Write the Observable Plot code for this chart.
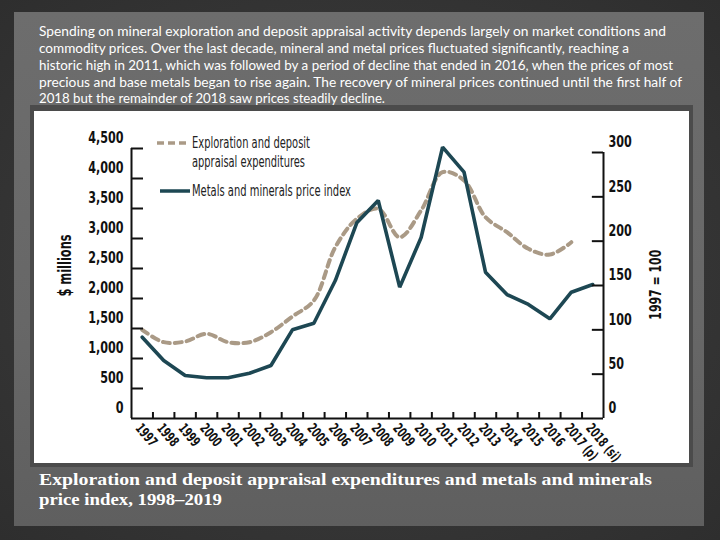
<!DOCTYPE html>
<html>
<head>
<meta charset="utf-8">
<script src="https://cdn.jsdelivr.net/npm/d3@7"></script>
<script src="https://cdn.jsdelivr.net/npm/@observablehq/plot@0.6"></script>
<style>
  html, body { margin: 0; padding: 0; }
  body { width: 720px; height: 540px; position: relative; overflow: hidden;
         background: radial-gradient(ellipse at 50% 50%, #404040 0%, #2e2e2e 100%); }
  #paper { position: absolute; left: 14px; top: 12px; width: 690px; height: 514px;
           background: linear-gradient(180deg, #6d6d6d 0%, #676767 60%, #5f5f5f 100%); }
  #frame { position: absolute; left: 30px; top: 105px; width: 663px; height: 362px; background: #4b4b4b; }
  #panel { position: absolute; left: 34px; top: 111px; width: 655px; height: 352px; background: #fff; }
  #chart { position: absolute; left: 0; top: 0; }
  #texts { position: absolute; left: 0; top: 0; }
</style>
</head>
<body>
<div id="paper"></div>
<div id="frame"></div>
<div id="panel"></div>
<div id="chart"></div>
<svg id="texts" width="720" height="540"></svg>
<script>
// ---- data ----
const years = [1997,1998,1999,2000,2001,2002,2003,2004,2005,2006,2007,2008,2009,2010,2011,2012,2013,2014,2015,2016,2017,2018];
const yearLabels = ["1997","1998","1999","2000","2001","2002","2003","2004","2005","2006","2007","2008","2009","2010","2011","2012","2013","2014","2015","2016","2017 (p)","2018 (si)"];
// Exploration and deposit appraisal expenditures, $ millions (1997–2017)
const expenditures = [1478,1272,1283,1412,1272,1272,1438,1700,1967,2855,3328,3495,3022,3467,4105,3967,3355,3105,2828,2733,2938];
// Metals and minerals price index, 1997 = 100 (1997–2018)
const priceIndex = [91.7,65.4,48.5,45.9,45.9,51.1,59.8,100,107.5,155.6,220.7,245.9,148.1,204.1,306,277.8,165,139.8,128.6,112.4,142.4,151.1];
const leftTicks = [0,500,1000,1500,2000,2500,3000,3500,4000,4500];
const rightTicks = [0,50,100,150,200,250,300];
const seriesNames = ["Exploration and deposit appraisal expenditures", "Metals and minerals price index"];

const K = 4433.3 / 300; // right-axis units mapped onto the left scale

const expData = expenditures.map((v, i) => ({year: years[i], value: v}));
const idxData = priceIndex.map((v, i) => ({year: years[i], value: v * K}));
const bounds = years.slice(0, -1).map(y => y + 0.5);

const font = '"DejaVu Sans Condensed", "DejaVu Sans", sans-serif';

const chart = Plot.plot({
  width: 720, height: 540,
  marginLeft: 131, marginRight: 117, marginTop: 148, marginBottom: 122,
  style: {background: "transparent", fontFamily: font, color: "#111"},
  x: {type: "linear", domain: [1996.5, 2018.5]},
  y: {domain: [0, 4500]},
  marks: [
    Plot.line(expData, {x: "year", y: "value", stroke: "#aa9a86", strokeWidth: 4, strokeDasharray: "7,5", curve: "catmull-rom"}),
    Plot.line(idxData, {x: "year", y: "value", stroke: "#1d4753", strokeWidth: 3.6, strokeLinejoin: "miter"}),
    Plot.ruleX([1996.5], {y1: 0, y2: 4500, stroke: "#111", strokeWidth: 2}),
    Plot.ruleX([2018.5], {y1: 0, y2: 300 * K, stroke: "#111", strokeWidth: 2}),
    Plot.ruleY([0], {x1: 1996.5, x2: 2018.5, stroke: "#111", strokeWidth: 2}),
    Plot.ruleY(leftTicks.slice(1), {y: d => d, x1: 1996.5, x2: 1996.5 + 0.56, stroke: "#111", strokeWidth: 2}),
    Plot.ruleY(rightTicks.slice(1).map(v => v * K), {y: d => d, x1: 2018.5 - 0.52, x2: 2018.5, stroke: "#111", strokeWidth: 2}),
    Plot.ruleX(bounds, {x: d => d, y1: 0, y2: 100, stroke: "#111", strokeWidth: 2}),
    Plot.axisY({ticks: leftTicks, tickSize: 0, tickPadding: 8, dy: -10, tickFormat: d3.format(","), label: null, fontSize: 15.5, fontWeight: "bold"}),
    Plot.axisY({anchor: "right", ticks: rightTicks.map(v => v * K), tickFormat: d => String(Math.round(d / K)), tickSize: 0, tickPadding: 5, dy: -10, label: null, fontSize: 15.5, fontWeight: "bold"}),
    Plot.axisX({ticks: years, tickFormat: d => yearLabels[years.indexOf(d)], tickSize: 0, tickPadding: 7, tickRotate: 50, dx: -4, label: null, fontSize: 14, fontWeight: "bold"}),
    Plot.text(["$ millions"], {x: 1996.5, y: 2550, dx: -66, rotate: -90, fontSize: 17, fontWeight: "bold", fill: "#111"}),
    Plot.text(["1997 = 100"], {x: 2018.5, y: 2230, dx: 52, rotate: -90, fontSize: 16, fontWeight: "bold", fill: "#111"})
  ]
});
document.getElementById("chart").appendChild(chart);

// imitate the condensed face of the original by narrowing the glyphs
function narrow(el, f) {
  const n = el.getComputedTextLength();
  if (n > 0) { el.setAttribute("textLength", (n * f).toFixed(1)); el.setAttribute("lengthAdjust", "spacingAndGlyphs"); }
}
chart.querySelectorAll('g[aria-label="y-axis tick label"] text').forEach(el => narrow(el, 0.8));
chart.querySelectorAll('g[aria-label="x-axis tick label"] text').forEach(el => narrow(el, 0.72));
chart.querySelectorAll('g[aria-label="text"] text').forEach(el => {
  const target = el.textContent.startsWith("$") ? 62 : 70;
  const n = el.getComputedTextLength();
  narrow(el, target / n);
});

// ---- legend and page texts ----
const svg = d3.select("#texts");
function fitted(g, x, y, t, w) {
  return g.append("text").attr("x", x).attr("y", y).attr("textLength", w).attr("lengthAdjust", "spacingAndGlyphs").text(t);
}
const lg = svg.append("g").attr("font-family", font).attr("font-size", 15).attr("fill", "#222");
lg.append("line").attr("x1", 157).attr("x2", 187).attr("y1", 143).attr("y2", 143)
  .attr("stroke", "#aa9a86").attr("stroke-width", 3.5).attr("stroke-dasharray", "7,4");
fitted(lg, 192, 148, "Exploration and deposit", 118);
fitted(lg, 192, 167, "appraisal expenditures", 113);
lg.append("line").attr("x1", 160).attr("x2", 190).attr("y1", 191).attr("y2", 191)
  .attr("stroke", "#1d4753").attr("stroke-width", 3.5);
fitted(lg, 192, 196, "Metals and minerals price index", 159);

const para = [
  ["Spending on mineral exploration and deposit appraisal activity depends largely on market conditions and", 627],
  ["commodity prices.  Over the last decade, mineral and metal prices fluctuated significantly, reaching a", 590],
  ["historic high in 2011, which was followed by a period of decline that ended in 2016, when the prices of most", 634],
  ["precious and base metals began to rise again. The recovery of mineral prices continued until the first half of", 643],
  ["2018 but the remainder of 2018 saw prices steadily decline.", 346]
];
const pb = [36, 53, 70, 87, 103];
const pg = svg.append("g").attr("font-family", 'Lato, "Open Sans", sans-serif').attr("font-size", 13.5).attr("fill", "#fff");
para.forEach(([t, w], i) => fitted(pg, 39, pb[i], t, w));

const cap = [["Exploration and deposit appraisal expenditures and metals and minerals", 613], ["price index, 1998\u20132019", 183]];
const cg = svg.append("g").attr("font-family", '"Liberation Serif", "DejaVu Serif", serif').attr("font-size", 17).attr("font-weight", "bold").attr("fill", "#fff");
cap.forEach(([t, w], i) => fitted(cg, 39, 485 + i * 20, t, w));
</script>
</body>
</html>
